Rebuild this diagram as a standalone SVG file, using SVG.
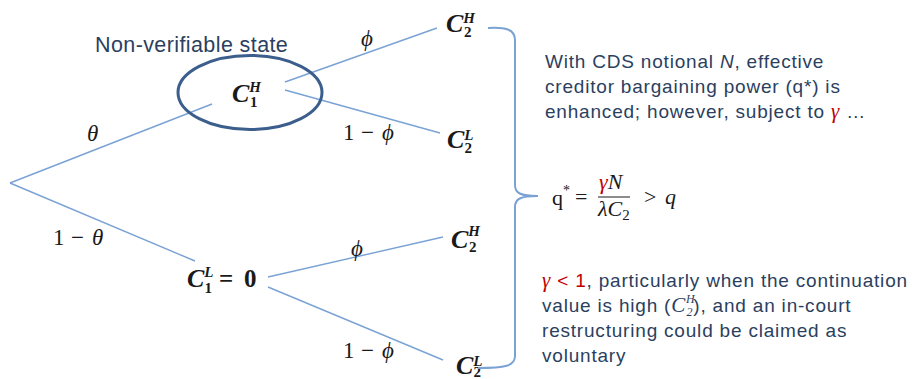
<svg xmlns="http://www.w3.org/2000/svg" width="912" height="379" viewBox="0 0 912 379">
<style>
.edge{stroke:#7BA2D4;stroke-width:1.4;fill:none}
.brace{stroke:#7BA2D4;stroke-width:2;fill:none}
.mb{font-family:"Liberation Serif","DejaVu Serif",serif;font-weight:bold;font-style:italic;font-size:26px;fill:#1a1a1a}
.sup{font-size:15px}
.sub{font-size:15px;font-style:normal}
.lab{font-family:"Liberation Serif","DejaVu Serif",serif;font-size:23px;fill:#1a1a1a}
.it{font-style:italic}
.txt{font-family:"Liberation Sans",Arial,sans-serif;font-size:19px;fill:#2B3F60;letter-spacing:0.8px}
.red{fill:#C00000}
.mi{font-family:"Liberation Serif","DejaVu Serif",serif;font-style:italic}
.fm{font-family:"Liberation Serif","DejaVu Serif",serif;font-size:22px;fill:#1a1a1a}
</style>
<g id="connectors">
<line class="edge" x1="10" y1="183" x2="212" y2="104"/>
<line class="edge" x1="10" y1="183" x2="195" y2="261"/>
<line class="edge" x1="285" y1="82" x2="437" y2="28"/>
<line class="edge" x1="285" y1="90" x2="440" y2="133"/>
<line class="edge" x1="268" y1="277" x2="443" y2="237"/>
<line class="edge" x1="268" y1="287" x2="443" y2="360"/>
</g>
<g id="edge-labels">
<text class="lab it" x="87" y="141">θ</text>
<text class="lab" x="53 71 92" y="245">1−<tspan class="it">θ</tspan></text>
<text class="lab it" x="361" y="46">ϕ</text>
<text class="lab" x="343 361 382" y="140">1−<tspan class="it">ϕ</tspan></text>
<text class="lab it" x="351" y="256">ϕ</text>
<text class="lab" x="343 361 382" y="358">1−<tspan class="it">ϕ</tspan></text>
</g>
<g id="node-C1H">
<text x="95" y="52" font-family="Liberation Sans,Arial,sans-serif" font-size="21.5" letter-spacing="0.4" fill="#2B3F60">Non-verifiable state</text>
<ellipse cx="250" cy="92.5" rx="72" ry="37" fill="none" stroke="#3B5E8C" stroke-width="3"/>
<text class="mb" x="232" y="102">C<tspan class="sup" dy="-10">H</tspan><tspan class="sub" dx="-11" dy="15">1</tspan></text>
</g>
<g id="node-C1L">
<text class="mb" x="187" y="287">C<tspan class="sup" dy="-10">L</tspan><tspan class="sub" dx="-9" dy="16">1</tspan><tspan font-style="normal" font-size="25" x="219" y="287">=</tspan><tspan font-style="normal" font-size="25" x="244">0</tspan></text>
</g>
<g id="node-C2H-upper">
<text class="mb" x="446" y="32">C<tspan class="sup" dy="-9">H</tspan><tspan class="sub" dx="-11" dy="14">2</tspan></text>
</g>
<g id="node-C2L-upper">
<text class="mb" x="447" y="148">C<tspan class="sup" dy="-8">L</tspan><tspan class="sub" dx="-9" dy="13">2</tspan></text>
</g>
<g id="node-C2H-lower">
<text class="mb" x="451" y="248">C<tspan class="sup" dy="-12">H</tspan><tspan class="sub" dx="-11" dy="16">2</tspan></text>
</g>
<g id="node-C2L-lower">
<text class="mb" x="456" y="374">C<tspan class="sup" dy="-8">L</tspan><tspan class="sub" dx="-9" dy="11">2</tspan></text>
</g>
<g id="brace">
<path class="brace" d="M488,28 C505,27 515,29 515,40 L515,185 C515,193 520,196 538,196 C520,196 515,199 515,207 L515,356 C515,366 505,368 478,368"/>
</g>
<g id="text-top">
<text class="txt" x="545" y="68">With CDS notional <tspan font-style="italic">N</tspan>, effective</text>
<text class="txt" x="545" y="93">creditor bargaining power (q*) is</text>
<text class="txt" x="545" y="118">enhanced; however, subject to <tspan class="mi red" font-size="21">γ</tspan> …</text>
</g>
<g id="formula">
<text class="fm" x="552" y="205">q<tspan font-size="14" dy="-10">*</tspan><tspan x="575" y="204">=</tspan></text>
<text class="fm" x="599" y="189"><tspan class="it red">γ</tspan><tspan class="it">N</tspan></text>
<line x1="598" y1="197" x2="630" y2="197" stroke="#1a1a1a" stroke-width="1"/>
<text class="fm" x="598" y="216"><tspan class="it">λC</tspan><tspan font-size="15" dy="4">2</tspan></text>
<text class="fm" x="644" y="204">&gt;</text>
<text class="fm it" x="665" y="204">q</text>
</g>
<g id="text-bottom">
<text class="txt" x="542" y="287"><tspan class="mi red" font-size="21">γ</tspan><tspan class="red"> &lt; 1</tspan>, particularly when the continuation</text>
<text class="txt" x="542" y="312">value is high (<tspan class="mi" font-size="21">C</tspan><tspan class="mi" font-size="12" dy="-9">H</tspan><tspan class="mi" font-size="12" dx="-9" dy="13">2</tspan><tspan dy="-4">), and an in-court</tspan></text>
<text class="txt" x="542" y="337">restructuring could be claimed as</text>
<text class="txt" x="542" y="362">voluntary</text>
</g>
</svg>
